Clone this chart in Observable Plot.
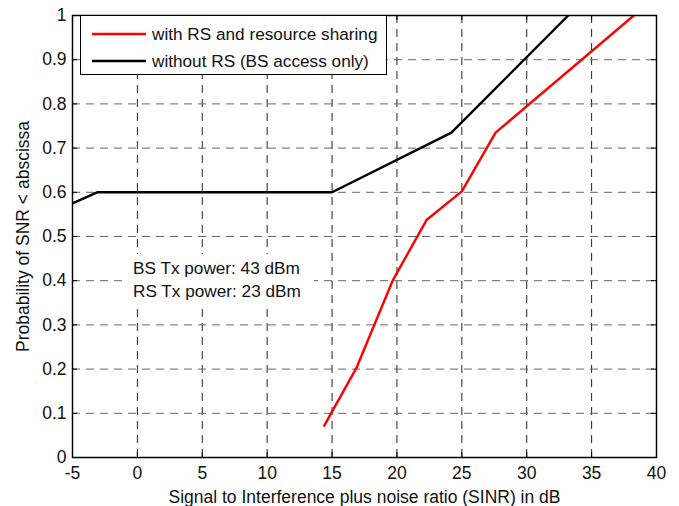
<!DOCTYPE html>
<html>
<head>
<meta charset="utf-8">
<script src="https://cdn.jsdelivr.net/npm/d3@7"></script>
<script src="https://cdn.jsdelivr.net/npm/@observablehq/plot@0.6"></script>
<style>
  body { margin: 0; background: #fff; font-family: "Liberation Sans", Arial, sans-serif; }
  #wrap { position: relative; width: 679px; height: 506px; }
  #legend { position: absolute; left: 80px; top: 15px; width: 307px; height: 60px; border: 1px solid #000; background: #fff; box-sizing: border-box; font-size: 17.2px; color: #111; }
  .row { position: absolute; left: 11px; display: flex; align-items: center; line-height: 20px; }
  .row svg { margin-right: 6px; }
  #notes { position: absolute; left: 124px; top: 254px; width: 190px; height: 52px; background: #fff; font-size: 17.2px; color: #111; }
  #notes div { position: absolute; left: 9px; line-height: 20px; }
</style>
</head>
<body>
<div id="wrap"></div>
<script>
// Data
const seriesNames = ["with RS and resource sharing", "without RS (BS access only)"];
const seriesColors = ["#ff0000", "#000000"];
const redX = [14.4, 16.9, 19.7, 22.3, 25.0, 27.6, 38.25];
const redY = [0.072, 0.204, 0.402, 0.538, 0.602, 0.735, 1.0];
const blackX = [-5, -3.1, 15.0, 24.2, 33.2];
const blackY = [0.575, 0.600, 0.600, 0.735, 1.0];
const xTicks = [-5, 0, 5, 10, 15, 20, 25, 30, 35, 40];
const xTickLabels = ["-5", "0", "5", "10", "15", "20", "25", "30", "35", "40"];
const yTicks = [0, 0.1, 0.2, 0.3, 0.4, 0.5, 0.6, 0.7, 0.8, 0.9, 1];
const yTickLabels = ["0", "0.1", "0.2", "0.3", "0.4", "0.5", "0.6", "0.7", "0.8", "0.9", "1"];
const notes = ["BS Tx power: 43 dBm", "RS Tx power: 23 dBm"];

const red = redX.map((x, i) => ({x, y: redY[i], s: seriesNames[0]}));
const black = blackX.map((x, i) => ({x, y: blackY[i], s: seriesNames[1]}));

const W = 679, H = 506, mL = 72, mR = 23, mT = 15, mB = 49;
const pw = W - mL - mR, ph = H - mT - mB;

const chart = Plot.plot({
  width: W, height: H,
  marginLeft: mL, marginRight: mR, marginTop: mT, marginBottom: mB,
  style: {fontFamily: '"Liberation Sans", Arial, sans-serif', fontSize: "17px", color: "#111", background: "#fff"},
  x: {domain: [-5, 40]},
  y: {domain: [0, 1]},
  marks: [
    Plot.ruleX(xTicks.slice(1, -1), {stroke: "#222", strokeDasharray: "8,6", strokeWidth: 1}),
    Plot.ruleY(yTicks.slice(1, -1), {stroke: "#666", strokeDasharray: "8,6", strokeWidth: 1}),
    // inward ticks
    Plot.tickY(yTicks, {stroke: "#000", insetRight: pw - 5}),
    Plot.tickY(yTicks, {stroke: "#000", insetLeft: pw - 5}),
    Plot.tickX(xTicks, {stroke: "#000", insetTop: ph - 5}),
    Plot.tickX(xTicks, {stroke: "#000", insetBottom: ph - 5}),
    Plot.axisX({ticks: xTicks, tickSize: 0, tickPadding: 9, fontSize: 17.5, tickFormat: (d) => xTickLabels[xTicks.indexOf(d)], label: "Signal to Interference plus noise ratio (SINR) in dB", labelAnchor: "center", labelArrow: false, labelOffset: 45}),
    Plot.axisY({ticks: yTicks, tickSize: 0, tickPadding: 6, fontSize: 17.5, tickFormat: (d) => yTickLabels[yTicks.indexOf(d)], label: "Probability of SNR < abscissa", labelAnchor: "center", labelArrow: false, labelOffset: 56}),
    Plot.line(black, {x: "x", y: "y", stroke: seriesColors[1], strokeWidth: 2.4, clip: true}),
    Plot.line(red, {x: "x", y: "y", stroke: seriesColors[0], strokeWidth: 2.4, clip: true}),
    Plot.frame({stroke: "#000", strokeWidth: 1.5})
  ]
});

const wrap = document.getElementById("wrap");
wrap.appendChild(chart);

const notesDiv = document.createElement("div");
notesDiv.id = "notes";
notes.forEach((t, i) => {
  const d = document.createElement("div");
  d.style.top = (4 + i * 23) + "px";
  d.textContent = t;
  notesDiv.appendChild(d);
});
wrap.appendChild(notesDiv);

const legend = document.createElement("div");
legend.id = "legend";
seriesNames.forEach((name, i) => {
  const row = document.createElement("div");
  row.className = "row";
  row.style.top = (i === 0 ? 8 : 35) + "px";
  row.innerHTML = `<svg width="54" height="4"><line x1="0" x2="54" y1="2" y2="2" stroke="${seriesColors[i]}" stroke-width="2.4"/></svg><span>${name}</span>`;
  legend.appendChild(row);
});
wrap.appendChild(legend);
</script>
</body>
</html>
